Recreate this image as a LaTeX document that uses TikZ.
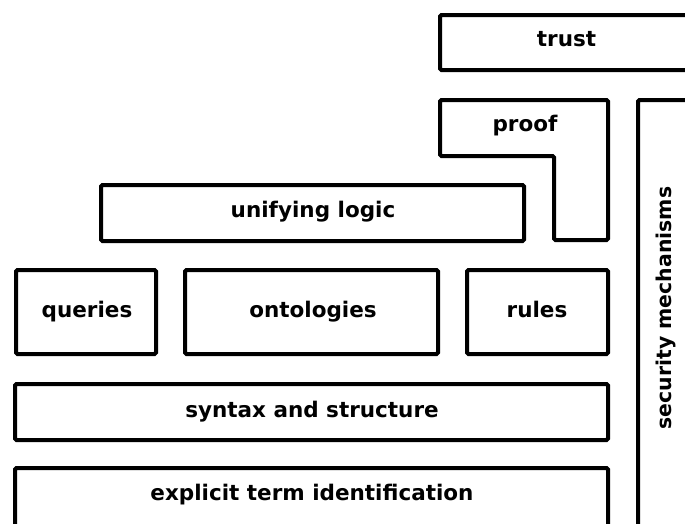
\documentclass[tikz,border=0pt]{standalone}
\usepackage{fontspec}
\setmainfont{DejaVu Sans}
\tikzset{
  layer/.style={draw=black, line width=4pt, rounded corners=1.5pt, fill=white},
  lbl/.style={font=\fontsize{21.5}{24}\selectfont\bfseries, anchor=mid, inner sep=0pt},
  vlbl/.style={font=\fontsize{20.4}{24}\selectfont\bfseries, anchor=mid, inner sep=0pt, rotate=90}
}
\begin{document}
\begin{tikzpicture}[x=1pt,y=-1pt]
\clip (0,0) rectangle (685,523);
\fill[white] (0,0) rectangle (685,523);
% boxes
\draw[layer] (440,15) rectangle (700,70);
\draw[layer] (440,100) -- (608,100) -- (608,240) -- (554,240) -- (554,156) -- (440,156) -- cycle;
\draw[layer] (638,100) rectangle (700,535);
\draw[layer] (101,185) rectangle (524,241);
\draw[layer] (16,270) rectangle (156,354);
\draw[layer] (185,270) rectangle (438,354);
\draw[layer] (467,270) rectangle (608,354);
\draw[layer] (15,384) rectangle (608,440);
\draw[layer] (15,468) rectangle (608,535);
% labels
\node[lbl] (trust) at (566.5,44) {trust};
\node[lbl] (proof) at (525,129) {proof};
\node[vlbl] (security) at (669,308) {security mechanisms};
\node[lbl] (logic) at (313,215) {unifying logic};
\node[lbl] (queries) at (87,315) {queries};
\node[lbl] (ontologies) at (313,315) {ontologies};
\node[lbl] (rules) at (537,315) {rules};
\node[lbl] (syntax) at (312,415) {syntax and structure};
\node[lbl] (explicit) at (312,498) {explicit term identification};
\end{tikzpicture}
\end{document}
